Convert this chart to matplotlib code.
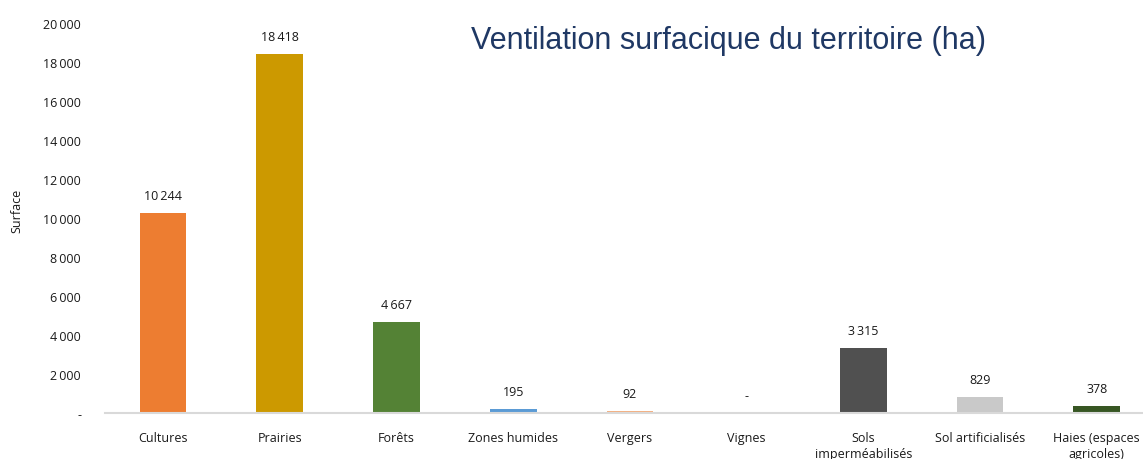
import matplotlib
matplotlib.use("Agg")
import matplotlib.pyplot as plt

categories = ["Cultures", "Prairies", "Forêts", "Zones humides", "Vergers", "Vignes",
              "Sols\nimperméabilisés", "Sol artificialisés", "Haies (espaces\nagricoles)"]
values = [10244, 18418, 4667, 195, 92, 0, 3315, 829, 378]
colors = ["#ED7D31", "#CC9900", "#548235", "#5B9BD5", "#F4B183", "#FFFFFF",
          "#505050", "#C9C9C9", "#375623"]
yticks = [0, 2000, 4000, 6000, 8000, 10000, 12000, 14000, 16000, 18000, 20000]

def fmt(v):
    return "-" if v == 0 else f"{v:,}".replace(",", "\u2009")

FONT = "Open Sans"
TXT = "#1A1A1A"

fig = plt.figure(figsize=(11.43, 4.60), dpi=100)
ax = fig.add_axes([0.0916, 0.1, 0.919, 0.848])
x = list(range(len(categories)))
ax.bar(x, values, width=0.4, color=colors, zorder=2)
ax.set_xlim(-0.5, len(categories) - 0.5)
ax.set_ylim(0, 20000)
ax.set_yticks(yticks)
ax.set_yticklabels([fmt(v) for v in yticks], fontsize=9, family=FONT, color=TXT)
ax.set_xticks(x)
ax.set_xticklabels(categories, fontsize=9, family=FONT, color=TXT, linespacing=1.3)
ax.tick_params(axis="y", length=0, pad=17)
ax.tick_params(axis="x", length=0, pad=13)
for s in ["top", "right", "left"]:
    ax.spines[s].set_visible(False)
ax.spines["bottom"].set_color("#D9D9D9")
ax.spines["bottom"].set_linewidth(1.5)
for xi, v in zip(x, values):
    ax.annotate(fmt(v), (xi, v), xytext=(0, 8), textcoords="offset points",
                ha="center", va="bottom", fontsize=9, family=FONT, color=TXT)
ax.set_ylabel("Surface", fontsize=9, family=FONT, color=TXT)
ax.yaxis.set_label_coords(-0.077, 0.52)
fig.text(0.637, 0.91, "Ventilation surfacique du territoire (ha)", ha="center", va="center",
         fontsize=22, family="Liberation Sans", color="#1F3864")
fig.savefig("out.png", dpi=100)
